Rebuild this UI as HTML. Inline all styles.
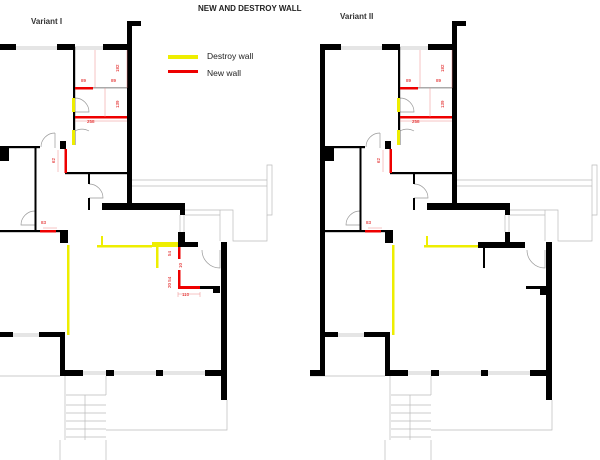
<!DOCTYPE html>
<html><head><meta charset="utf-8"><style>
html,body{margin:0;padding:0;background:#fff;width:600px;height:460px;overflow:hidden}
svg{display:block}
text{font-family:"Liberation Sans",sans-serif}
</style></head><body>
<svg width="600" height="460" viewBox="0 0 600 460" xmlns="http://www.w3.org/2000/svg">
<defs>
<g id="base">
  <g stroke="#bbb" stroke-width="0.7" fill="none">
    <path d="M457 180H592M457 186H592M592 165H597V215H592Z"/>
    <path d="M510 210H558V241H592V215M510 215H545V241M545 210V241"/>
    <path d="M310 376H385M390 376V440M431 376V395M391 395H431M552 400V430H431M391 405H431M391 413H431M391 421H431M391 429H431M391 437H431M410 395V440M385 440V460M431 440V460"/>
    <path d="M341 47H382M341 49H382M400 47H428M400 49H428M338 334H364M338 336H364M408 372H431M439 372H481M488 372H530M408 374H431M439 374H481M488 374H530"/>
    <path d="M505 215V232M509 215V232"/>
  </g>
  <g stroke="#999" stroke-width="0.7" fill="none">
    <path d="M400 98 A14 14 0 0 1 414 112 H400"/>
    <path d="M400 131 A14 14 0 0 1 414 131"/><path d="M400 131V145"/>
    <path d="M380 133 A14 14 0 0 0 366 147"/><path d="M380 133V148"/>
    <path d="M414 184 A14 14 0 0 1 428 198 H414"/>
    <path d="M360 211 A14 14 0 0 0 346 225 H360"/>
    <path d="M527 250 A18 18 0 0 0 545 268 V250"/>
  </g>
  <g fill="#000">
    <rect x="320" y="44" width="5" height="332"/>
    <rect x="310" y="370" width="15" height="6"/>
    <rect x="320" y="44" width="21" height="6"/>
    <rect x="382" y="44" width="18" height="6"/>
    <rect x="428" y="44" width="29" height="6"/>
    <rect x="452" y="21" width="5" height="189"/>
    <rect x="452" y="21" width="14" height="5"/>
    <rect x="398" y="47" width="2.2" height="98"/>
    <rect x="385" y="141" width="6" height="8"/>
    <rect x="325" y="146" width="40" height="2.2"/>
    <rect x="325" y="146" width="9" height="15"/>
    <rect x="359.5" y="147" width="2" height="83"/>
    <rect x="390" y="172" width="62" height="2.2"/>
    <rect x="413" y="173" width="2" height="11"/>
    <rect x="413" y="198" width="2" height="12"/>
    <rect x="427" y="203" width="83" height="7"/>
    <rect x="505" y="203" width="5" height="12"/>
    <rect x="505" y="232" width="5" height="12"/>
    <rect x="325" y="230" width="68" height="2.2"/>
    <rect x="385" y="230" width="8" height="13"/>
    <rect x="546" y="242" width="6" height="158"/>
    <rect x="325" y="332" width="13" height="5"/>
    <rect x="364" y="332" width="26" height="5"/>
    <rect x="385" y="332" width="5" height="44"/>
    <rect x="385" y="370" width="23" height="6"/>
    <rect x="431" y="370" width="8" height="6"/>
    <rect x="481" y="370" width="7" height="6"/>
    <rect x="530" y="370" width="22" height="6"/>
  </g>
  <g>
    <rect x="400" y="87" width="18" height="2.5" fill="#e00"/>
    <rect x="418" y="87" width="34" height="1.5" fill="#aaa"/>
    <rect x="400" y="116" width="52" height="2.5" fill="#e00"/>
    <rect x="389.5" y="149" width="2.5" height="24" fill="#e00"/>
    <rect x="365" y="230" width="16" height="2.5" fill="#e00"/>
    <rect x="397" y="98" width="3" height="14" fill="#ee0"/>
    <rect x="397" y="130" width="3" height="15" fill="#ee0"/>
    <rect x="392" y="245" width="2.5" height="90" fill="#ee0"/>
  </g>
  <g stroke="#e88" stroke-width="0.5" fill="none">
    <path d="M420 50V88M452 50V88M430 88V117M383 150V172M368 228H382M400 121H452"/>
  </g>
  <g fill="#d00" font-size="4.5">
    <text x="406" y="82">89</text><text x="436" y="82">89</text>
    <text x="412" y="123">258</text><text x="366" y="224">83</text>
    <text x="380" y="163" transform="rotate(-90 380 163)">62</text>
    <text x="444" y="108" transform="rotate(-90 444 108)">139</text>
    <text x="444" y="72" transform="rotate(-90 444 72)">182</text>
  </g>
</g>
</defs>

<use href="#base"/>
<use href="#base" transform="translate(-325 0)"/>

<rect x="426" y="236" width="2" height="10" fill="#ee0"/>
<rect x="424" y="245" width="54" height="2.5" fill="#ee0"/>
<rect x="478" y="242" width="47" height="6" fill="#000"/>
<rect x="483" y="246" width="2" height="22" fill="#000"/>
<rect x="526" y="286" width="21" height="3" fill="#000"/>
<rect x="540" y="286" width="7" height="9" fill="#000"/>

<rect x="101" y="236" width="2" height="10" fill="#ee0"/>
<rect x="97" y="245" width="55" height="2.5" fill="#ee0"/>
<rect x="152" y="242" width="26" height="5" fill="#ee0"/>
<rect x="156" y="247" width="2.5" height="21" fill="#ee0"/>
<rect x="178" y="232" width="5" height="15" fill="#000"/>
<rect x="183" y="242" width="15" height="5" fill="#000"/>
<rect x="178" y="247" width="2.5" height="12" fill="#e00"/>
<rect x="178" y="270" width="2.5" height="18" fill="#e00"/>
<rect x="178" y="286" width="22" height="3" fill="#e00"/>
<rect x="200" y="286" width="15" height="3" fill="#000"/>
<rect x="213" y="286" width="7" height="7" fill="#000"/>
<g fill="#d00" font-size="4.5">
<text x="171" y="256" transform="rotate(-90 171 256)">54</text>
<text x="182" y="268" transform="rotate(-90 182 268)">10</text>
<text x="171" y="288" transform="rotate(-90 171 288)">20 54</text>
<text x="182" y="296">110</text>
</g>
<path d="M178 292V297M200 292V297M178 294H200" stroke="#e88" stroke-width="0.5"/>

<rect x="168" y="55" width="30" height="4" fill="#ee0"/>
<rect x="168" y="70" width="30" height="3" fill="#e00"/>
<text x="207" y="59" font-size="8.5" fill="#222">Destroy wall</text>
<text x="207" y="76" font-size="8.5" fill="#222">New wall</text>
<text x="198" y="11" font-size="8" font-weight="bold" fill="#222">NEW AND DESTROY WALL</text>
<text x="31" y="24" font-size="8" font-weight="bold" fill="#333">Variant I</text>
<text x="340" y="19" font-size="8" font-weight="bold" fill="#333">Variant II</text>
</svg>
</body></html>
